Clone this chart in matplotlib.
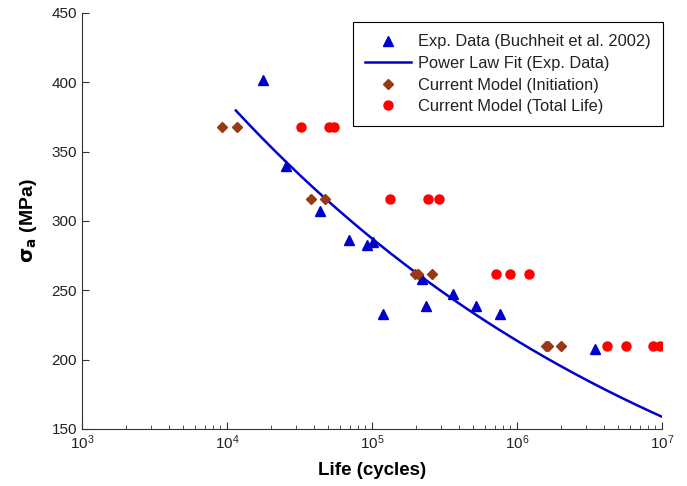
import numpy as np
import matplotlib
matplotlib.use('Agg')
import matplotlib.pyplot as plt

plt.rcParams['font.family'] = ['Liberation Sans', 'DejaVu Sans']

# experimental data (Buchheit et al. 2002)
expLife = [17700, 25500, 43800, 69300, 92400, 101600, 119000, 221000, 235000,
           362000, 521000, 764000, 3450000]
expStress = [402, 340, 307, 286, 283, 285, 233, 258, 239, 247, 239, 233, 208]

# current model, initiation
initLife = [9250, 11700, 37900, 47400, 198000, 208000, 259000, 1580000, 1630000, 2010000]
initStress = [368, 368, 316, 316, 262, 262, 262, 210, 210, 210]

# current model, total life
totalLife = [32400, 50500, 54500, 133000, 243000, 290000, 716000, 895000, 1210000,
             4180000, 5650000, 8670000, 9680000]
totalStress = [368, 368, 368, 316, 316, 316, 262, 262, 262, 210, 210, 210, 210]

# power law fit: sigma = A * N^b
fitA = 1266.0
fitB = -0.1288
fitStart = 11500
fitEnd = 1e7

fitN = np.logspace(np.log10(fitStart), np.log10(fitEnd), 200)
fitS = fitA * fitN ** fitB

fig = plt.figure(figsize=(6.87, 4.86), dpi=100)
ax = fig.add_axes([0.1194, 0.1173, 0.8443, 0.856])

ax.plot(expLife, expStress, '^', color='#0000cc', markersize=6.5, linestyle='none',
        label='Exp. Data (Buchheit et al. 2002)')
ax.plot(fitN, fitS, '-', color='#0000cc', linewidth=1.8, label='Power Law Fit (Exp. Data)')
ax.plot(initLife, initStress, 'D', color='#993814', markersize=5, linestyle='none',
        label='Current Model (Initiation)')
ax.plot(totalLife, totalStress, 'o', color='#ff0000', markersize=6.5, linestyle='none',
        label='Current Model (Total Life)')

ax.set_xscale('log')
ax.set_xlim(1e3, 1e7)
ax.set_ylim(150, 450)
ax.set_yticks(np.arange(150, 451, 50))
ax.spines['top'].set_visible(False)
ax.spines['right'].set_visible(False)
for s in ['left', 'bottom']:
    ax.spines[s].set_color('#333333')
ax.tick_params(direction='in', which='both', labelsize=11, colors='#333333',
               labelcolor='#222222')
ax.tick_params(which='major', length=5)
ax.tick_params(which='minor', length=3)

ax.set_xlabel('Life (cycles)', fontsize=13.5, fontweight='bold', labelpad=7)
ax.set_ylabel(r'$\mathbf{\sigma_a}$ (MPa)', fontsize=14, fontweight='bold', labelpad=9)

leg = ax.legend(loc='upper right', bbox_to_anchor=(1.002, 0.978), borderaxespad=0,
                fontsize=11.8, frameon=True, fancybox=False, edgecolor='black',
                framealpha=1, borderpad=0.75, labelspacing=0.4, handlelength=2.8,
                handletextpad=0.43)
leg.get_frame().set_linewidth(0.8)
for t in leg.get_texts():
    t.set_color('#222222')

fig.savefig('out.png', dpi=100)
